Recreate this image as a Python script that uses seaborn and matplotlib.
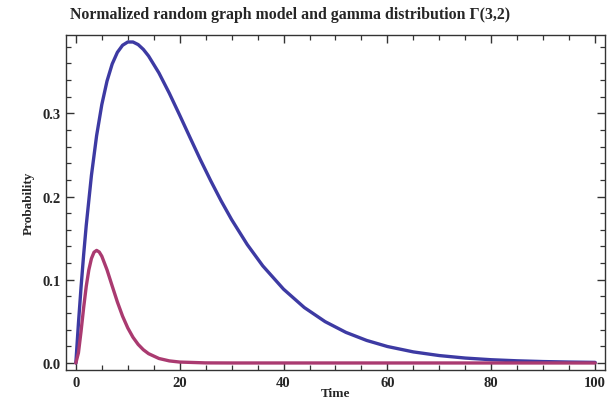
import matplotlib
matplotlib.use("Agg")
import matplotlib.pyplot as plt
from matplotlib.ticker import MultipleLocator
import pandas as pd
import seaborn as sns

# --- Data --------------------------------------------------------------------
# Normalized random graph model (blue)
model_t = [0, 0.5, 1, 1.5, 2, 3, 4, 5, 6, 7, 8, 9, 10, 11, 12, 13, 14, 16,
           18, 20, 22, 24, 26, 28, 30, 33, 36, 40, 44, 48, 52, 56, 60, 65,
           70, 75, 80, 85, 90, 95, 100]
model_p = [0.0, 0.0477, 0.0909, 0.1300, 0.1653, 0.2254, 0.2733, 0.3106,
           0.3388, 0.3594, 0.3734, 0.3819, 0.3858, 0.3858, 0.3827, 0.3769,
           0.3690, 0.3486, 0.3242, 0.2978, 0.2708, 0.2441, 0.2187, 0.1946,
           0.1723, 0.1424, 0.1167, 0.0887, 0.0666, 0.0497, 0.0368, 0.0271,
           0.0198, 0.0133, 0.0089, 0.0059, 0.0039, 0.0026, 0.0017, 0.0011,
           0.0007]

# Gamma distribution Γ(3,2) (red)
gamma_t = [0, 0.5, 1, 1.5, 2, 2.5, 3, 3.5, 4, 4.5, 5, 6, 7, 8, 9, 10, 11, 12,
           13, 14, 16, 18, 20, 25, 30, 100]
gamma_p = [0.0, 0.0122, 0.0379, 0.0664, 0.0920, 0.1119, 0.1255, 0.1331,
           0.1353, 0.1334, 0.1283, 0.1120, 0.0925, 0.0733, 0.0562, 0.0421,
           0.0309, 0.0223, 0.0159, 0.0112, 0.0054, 0.0025, 0.0011, 0.0001,
           0.0, 0.0]

TITLE = "Normalized random graph model and gamma distribution \u0393(3,2)"

# --- Style --------------------------------------------------------------------
sns.set_style("ticks")
plt.rcParams["font.family"] = ["Liberation Serif", "DejaVu Serif"]
plt.rcParams["font.weight"] = "bold"

fig = plt.figure(figsize=(6.07, 4.02), dpi=100)
ax = fig.add_axes([0.1087, 0.077, 0.888, 0.833])

model_df = pd.DataFrame({"t": model_t, "p": model_p})
gamma_df = pd.DataFrame({"t": gamma_t, "p": gamma_p})

sns.lineplot(data=model_df, x="t", y="p", color="#3d3aa3", linewidth=2.4,
             sort=False, ax=ax)
sns.lineplot(data=gamma_df, x="t", y="p", color="#aa3a70", linewidth=2.4,
             sort=False, ax=ax)

ax.set_xlim(-1.9, 101.9)
ax.set_ylim(-0.0085, 0.394)

ax.xaxis.set_major_locator(MultipleLocator(20))
ax.xaxis.set_minor_locator(MultipleLocator(5))
ax.yaxis.set_major_locator(MultipleLocator(0.1))
ax.yaxis.set_minor_locator(MultipleLocator(0.02))
ax.yaxis.set_major_formatter(matplotlib.ticker.FormatStrFormatter("%.1f"))

ax.tick_params(which="both", direction="in", top=True, right=True,
               color="#333333", labelsize=10.5)
ax.tick_params(which="major", length=6, width=1, pad=4)
ax.tick_params(which="minor", length=3.5, width=0.9)
for lab in ax.get_xticklabels() + ax.get_yticklabels():
    lab.set_fontweight("bold")

for side in ax.spines.values():
    side.set_color("#333333")
    side.set_linewidth(1.0)

ax.set_xlabel("Time", fontsize=9.5, fontweight="bold", labelpad=-1)
ax.set_ylabel("Probability", fontsize=9.5, fontweight="bold", labelpad=5)
# title sits a bit left of the axes centre in the original
fig.text(0.478, 0.963, TITLE, fontsize=11.4, fontweight="bold",
         ha="center", va="center")

fig.savefig("out.png", dpi=100)
